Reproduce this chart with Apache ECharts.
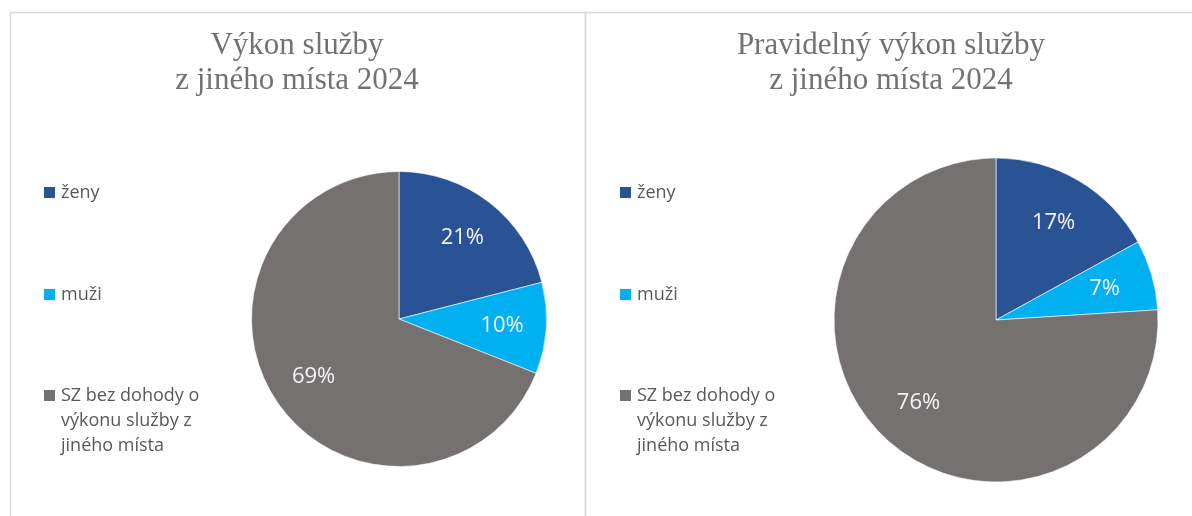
<!DOCTYPE html>
<html>
<head>
<meta charset="utf-8">
<script src="https://cdn.jsdelivr.net/npm/echarts@6/dist/echarts.min.js"></script>
<style>
html,body{margin:0;padding:0;background:#fff;}
#chart{width:1192px;height:516px;}
</style>
</head>
<body>
<div id="chart"></div>
<script>
// ---- data ----
const categories = ['ženy', 'muži', 'SZ bez dohody o výkonu služby z jiného místa'];
// two leading blank lines keep the legend marker beside the first text line
const legendLabels = ['ženy', 'muži', '\n\nSZ bez dohody o\nvýkonu služby z\njiného místa'];
const titles = ['Výkon služby\nz jiného místa 2024', 'Pravidelný výkon služby\nz jiného místa 2024'];
const values2024All = [21, 10, 69];
const values2024Regular = [17, 7, 76];
const colors = ['#2A5396', '#00B0F0', '#767171'];

// ---- layout ----
const panels = [
  { values: values2024All, title: titles[0], titleX: 297, center: [399, 319], r: 147.5, legendX: 42 },
  { values: values2024Regular, title: titles[1], titleX: 891, center: [996, 320], r: 162, legendX: 618 }
];

const chart = echarts.init(document.getElementById('chart'), null, { renderer: 'canvas' });

const titleOpts = [];
const legendOpts = [];
const seriesOpts = [];
const legendTops = [180, 282, 333];

panels.forEach((p, pi) => {
  titleOpts.push({
    text: p.title,
    left: p.titleX,
    top: 28,
    padding: 0,
    textAlign: 'center',
    textStyle: {
      fontFamily: 'Liberation Serif',
      fontSize: 31,
      fontWeight: 'normal',
      color: '#767171',
      lineHeight: 35
    }
  });
  categories.forEach((c, ci) => {
    legendOpts.push({
      orient: 'vertical',
      left: p.legendX,
      top: legendTops[ci],
      padding: 0,
      itemWidth: 13,
      itemHeight: 13,
      itemGap: 4,
      icon: 'rect',
      selectedMode: false,
      data: [c],
      formatter: function (name) { return legendLabels[categories.indexOf(name)]; },
      textStyle: {
        fontFamily: 'Open Sans',
        fontSize: 18,
        color: '#595959',
        lineHeight: 25
      }
    });
  });
  const data = categories.map((c, i) => ({ name: c, value: p.values[i], itemStyle: { color: colors[i] } }));
  seriesOpts.push({
    type: 'pie',
    center: p.center,
    radius: [0, p.r],
    startAngle: 90,
    clockwise: true,
    silent: true,
    animation: false,
    label: { show: false },
    labelLine: { show: false },
    itemStyle: { borderColor: '#ffffff', borderWidth: 0.6 },
    data: data
  });
  // label carrier: transparent pie so labels sit at ~0.68 R
  seriesOpts.push({
    type: 'pie',
    center: p.center,
    radius: [0, p.r * 1.36],
    startAngle: 90,
    clockwise: true,
    silent: true,
    animation: false,
    z: 5,
    itemStyle: { color: 'rgba(0,0,0,0)', borderWidth: 0 },
    label: {
      show: true,
      position: 'inner',
      formatter: '{d}%',
      fontFamily: 'Open Sans',
      fontSize: 22,
      color: '#F5F5F5'
    },
    labelLine: { show: false },
    emphasis: { disabled: true },
    data: categories.map((c, i) => ({ name: c, value: p.values[i] }))
  });
});

chart.setOption({
  backgroundColor: '#ffffff',
  animation: false,
  title: titleOpts,
  legend: legendOpts,
  series: seriesOpts,
  graphic: [
    { type: 'rect', silent: true, shape: { x: 10.5, y: 12.5, width: 575, height: 520 },
      style: { fill: 'none', stroke: '#D9D9D9', lineWidth: 1.5 } },
    { type: 'rect', silent: true, shape: { x: 585.5, y: 12.5, width: 620, height: 520 },
      style: { fill: 'none', stroke: '#D9D9D9', lineWidth: 1.5 } }
  ]
});
</script>
</body>
</html>
